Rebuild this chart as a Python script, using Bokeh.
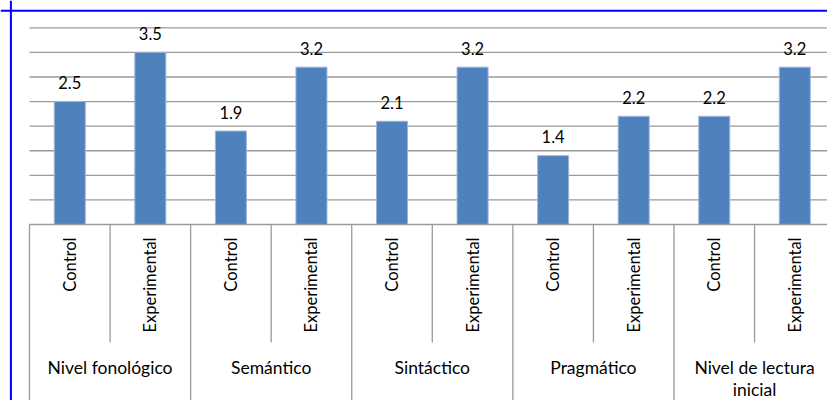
import numpy as np
from bokeh.plotting import figure
from bokeh.models import Range1d, ColumnDataSource, Span
from bokeh.core.properties import value
from bokeh.embed import file_html
from bokeh.resources import INLINE

groups = ["Nivel fonológico", "Semántico", "Sintáctico", "Pragmático", "Nivel de lectura\ninicial"]
subgroups = ["Control", "Experimental"]
control = [2.5, 1.9, 2.1, 1.4, 2.2]
experimental = [3.5, 3.2, 3.2, 2.2, 3.2]
grid_ticks = [0.5, 1.0, 1.5, 2.0, 2.5, 3.0, 3.5, 4.0]

FONT = "Lato"
BAR = "#4F81BD"
BAR_EDGE = "#9DB6D8"
GRID = "#9A9A9A"

# pixel scale of the frame
PX_X = 80.56   # pixels per slot
PX_Y = 49.17   # pixels per unit
X0_PX, Y0_PX = 29, 224
W, H = 827, 400
x_start, x_end = -X0_PX / PX_X, (W - X0_PX) / PX_X
y_start, y_end = (Y0_PX - H) / PX_Y, Y0_PX / PX_Y

n_slots = len(groups) * len(subgroups)
xs, vals, subs = [], [], []
for g in range(len(groups)):
    for s, series in enumerate([control, experimental]):
        xs.append(g * len(subgroups) + s + 0.5)
        vals.append(series[g])
        subs.append(subgroups[s])

bars = ColumnDataSource(dict(x=xs, top=vals, label=[f"{v:.1f}" for v in vals], sub=subs))

p = figure(width=W, height=H, output_backend="svg", toolbar_location=None,
           x_axis_type=None, y_axis_type=None,
           x_range=Range1d(x_start, x_end), y_range=Range1d(y_start, y_end),
           min_border=0, outline_line_color=None)
p.grid.visible = False
p.background_fill_color = "white"
p.border_fill_color = "white"

# gridlines
p.segment(x0=0, x1=n_slots, y0=grid_ticks, y1=grid_ticks, line_color=GRID, line_width=1.3)

# bars
p.vbar(x="x", top="top", bottom=0, width=0.385, source=bars, fill_color=BAR,
       line_color=BAR_EDGE, line_width=1)

# baseline
p.segment(x0=[0], x1=[n_slots], y0=[0], y1=[0], line_color=GRID, line_width=1.3)

# separators: short between subgroups, long between groups
bx = np.arange(0, n_slots + 1)
long_mask = bx % len(subgroups) == 0
p.segment(x0=bx[long_mask], x1=bx[long_mask], y0=0, y1=-178 / PX_Y, line_color=GRID, line_width=1.3)
p.segment(x0=bx[~long_mask], x1=bx[~long_mask], y0=0, y1=-118 / PX_Y, line_color=GRID, line_width=1.3)

# value labels
p.text(x="x", y="top", text="label", source=bars, text_align="center", text_baseline="alphabetic",
       y_offset=-19, text_font=value(FONT), text_font_size="16.5px", text_color="#000000")

# rotated subgroup labels
p.text(x="x", y=0, text="sub", source=bars, angle=np.pi / 2, text_align="right",
       text_baseline="middle", y_offset=13, text_font=value(FONT), text_font_size="16.5px",
       text_color="#000000")

# group labels
gx = [g * len(subgroups) + len(subgroups) / 2 for g in range(len(groups))]
p.text(x=gx, y=0, text=groups, text_align="center", text_baseline="top", y_offset=132,
       text_font=value(FONT), text_font_size="17.5px", text_color="#000000",
       text_line_height=1.05)

# outer blue chart border (left and top edges visible)
p.add_layout(Span(location=x_start + 10.4 / PX_X, dimension="height", line_color="#0000FF", line_width=2))
p.add_layout(Span(location=y_end - 10.2 / PX_Y, dimension="width", line_color="#0000FF", line_width=2))

open("out.html", "w").write(file_html(p, INLINE))
